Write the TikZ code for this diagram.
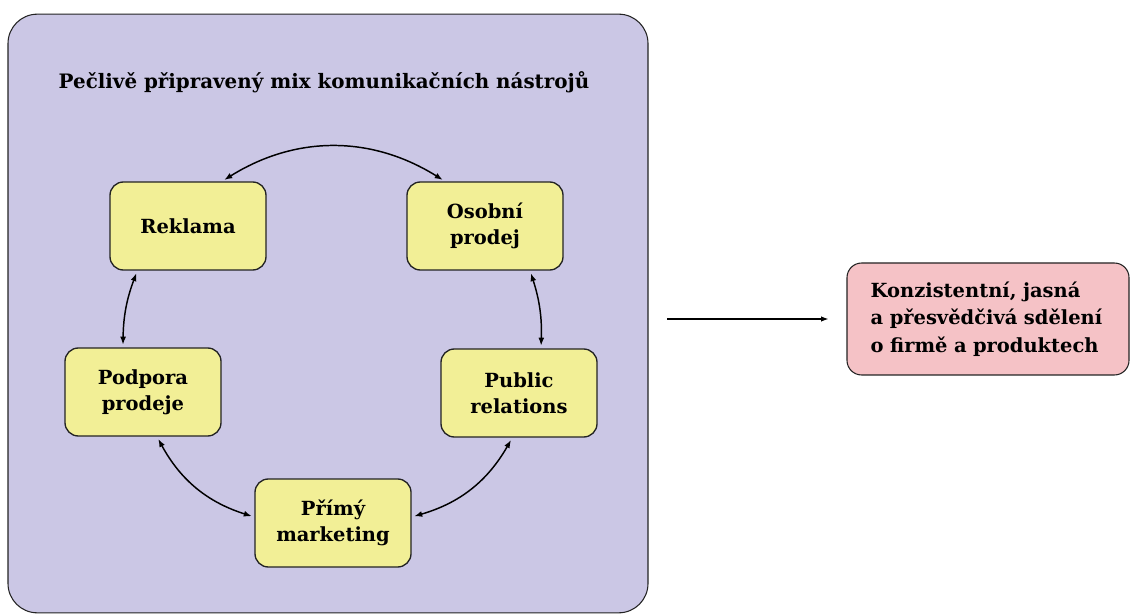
\documentclass[tikz,border=0pt]{standalone}
\usepackage{fontspec}
\setmainfont{DejaVu Serif}
\usetikzlibrary{arrows.meta}
\definecolor{panelfill}{RGB}{203,199,229}
\definecolor{toolfill}{RGB}{242,239,150}
\definecolor{resultfill}{RGB}{245,194,198}
\definecolor{edgegray}{RGB}{35,35,35}

\begin{document}
\begin{tikzpicture}[x=0.75pt,y=0.75pt,
  panel/.style={draw=edgegray,line width=0.8pt,fill=panelfill,rounded corners=22pt,minimum width=480pt,minimum height=449pt,inner sep=0pt},
  tool/.style={draw=edgegray,line width=1pt,fill=toolfill,rounded corners=10pt,minimum width=117pt,minimum height=66pt,inner sep=2pt,align=center,font=\bfseries\fontsize{14.6}{19.5}\selectfont},
  result/.style={draw=edgegray,line width=0.8pt,fill=resultfill,rounded corners=11pt,text width=176pt,minimum height=84pt,inner xsep=17.75pt,align=left,font=\bfseries\fontsize{14.6}{20.6}\selectfont},
  link/.style={{Latex[length=6pt,width=4.5pt]}-{Latex[length=6pt,width=4.5pt]},line width=1.1pt,shorten <=2pt,shorten >=2pt},
  flow/.style={-{Latex[length=5.5pt,width=4pt]},line width=0.8pt}]
\useasboundingbox (0,0) rectangle (1131,-616);
% \draw[help lines,step=50] (0,0) grid (1131,-616);
\node (panel) [panel] at (328,-313.5) {};
\node (title) [font=\bfseries\fontsize{14.9}{19.5}\selectfont] at (324,-82) {Pečlivě připravený mix komunikačních nástrojů};
%
\node (reklama) [tool] at (188,-226) {Reklama};
\node (osobni) [tool] at (485,-226) {Osobní\\prodej};
\node (podpora) [tool] at (143,-392) {Podpora\\prodeje};
\node (public) [tool] at (519,-393) {Public\\relations};
\node (primy) [tool] at (333,-523) {Přímý\\marketing};
%
\node (result) [result] at (988,-319) {Konzistentní, jasná\\a přesvědčivá sdělení\\o firmě a produktech};
%
\path[link] ([xshift=25.5pt]reklama.north) edge[bend left=32] ([xshift=-30pt]osobni.north);
\path[link] ([xshift=-38pt]reklama.south) edge[bend right=10] ([xshift=-15pt]podpora.north);
\path[link] ([xshift=33.75pt]osobni.south) edge[bend left=10] ([xshift=16.5pt]public.north);
\path[link] ([xshift=10.5pt]podpora.south) edge[bend right=22] ([yshift=4.5pt]primy.west);
\path[link] ([yshift=4.5pt]primy.east) edge[bend right=22] ([xshift=-5pt]public.south);
%
\draw[flow,shorten <=14pt,shorten >=13.5pt] (panel.east |- result.west) -- (result.west);
\end{tikzpicture}
\end{document}
